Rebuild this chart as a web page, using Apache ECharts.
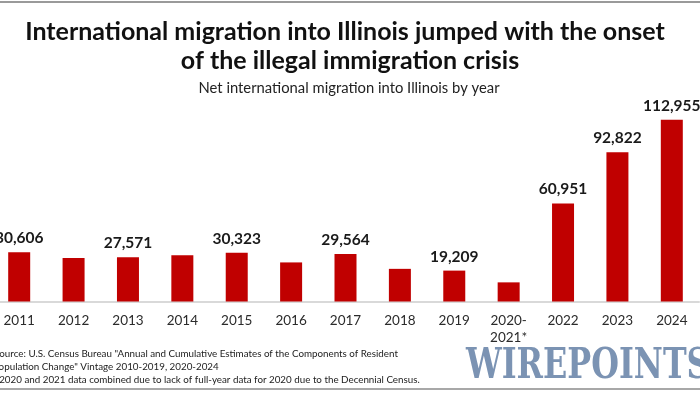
<!DOCTYPE html>
<html>
<head>
<meta charset="utf-8">
<script src="https://cdn.jsdelivr.net/npm/echarts@6/dist/echarts.min.js"></script>
<style>
html,body{margin:0;padding:0;background:#fff;}
#chart{width:700px;height:394px;}
</style>
</head>
<body>
<div id="chart"></div>
<script>
const categories = ['2011','2012','2013','2014','2015','2016','2017','2018','2019','2020-\n2021*','2022','2023','2024'];
const values = [30606, 27000, 27571, 28800, 30323, 24300, 29564, 20300, 19209, 11900, 60951, 92822, 112955];
const labeledYears = ['2011','2013','2015','2017','2019','2022','2023','2024'];

const titleLines = ['International migration into Illinois jumped with the onset', 'of the illegal immigration crisis'];
const subtitle = 'Net international migration into Illinois by year';
const footLines = [
  'Source: U.S. Census Bureau "Annual and Cumulative Estimates of the Components of Resident',
  'Population Change" Vintage 2010-2019, 2020-2024',
  '*2020 and 2021 data combined due to lack of full-year data for 2020 due to the Decennial Census.'
];

const chart = echarts.init(document.getElementById('chart'), null, {renderer:'canvas'});
chart.setOption({
  animation:false,
  backgroundColor:'#ffffff',
  grid:{left:-8, right:1, top:108.5, bottom:92.5, containLabel:false, outerBoundsMode:'none'},
  xAxis:{
    type:'category',
    data:categories,
    axisLine:{show:true, lineStyle:{color:'#d9d9d9', width:2}},
    axisTick:{show:false},
    axisLabel:{color:'#2b2b2b', fontFamily:'Lato', fontSize:13.5, margin:11, lineHeight:17, interval:0}
  },
  yAxis:{type:'value', min:0, max:120000, show:false, splitLine:{show:false}},
  series:[{
    type:'bar',
    data:values,
    barWidth:22,
    itemStyle:{color:'#c00000'},
    label:{
      show:true, position:'top', distance:6,
      fontFamily:'Lato', fontWeight:'bold', fontSize:15.5, color:'#1a1a1a',
      formatter:p => labeledYears.includes(p.name) ? p.value.toLocaleString('en-US') : ''
    }
  }],
  graphic:[
    {type:'rect', shape:{x:0,y:1,width:700,height:2}, style:{fill:'#9a9a9a'}},
    {type:'rect', shape:{x:0,y:388,width:700,height:2}, style:{fill:'#a8a8a8'}},
    {type:'text', x:345, y:31.5, style:{text:titleLines[0], fill:'#111', font:'bold 25px Lato', textAlign:'center', textVerticalAlign:'middle'}},
    {type:'text', x:350, y:60.5, style:{text:titleLines[1], fill:'#111', font:'bold 25px Lato', textAlign:'center', textVerticalAlign:'middle'}},
    {type:'text', x:349, y:88, style:{text:subtitle, fill:'#222', font:'14.8px Lato', textAlign:'center', textVerticalAlign:'middle'}},
    {type:'text', x:-6, y:354, style:{text:footLines[0], fill:'#222', font:'9.8px Lato', textAlign:'left', textVerticalAlign:'middle'}},
    {type:'text', x:-7, y:367, style:{text:footLines[1], fill:'#222', font:'9.8px Lato', textAlign:'left', textVerticalAlign:'middle'}},
    {type:'text', x:-5, y:380, style:{text:footLines[2], fill:'#222', font:'9.8px Lato', textAlign:'left', textVerticalAlign:'middle'}},
    {type:'text', x:466, y:367, scaleX:0.74, style:{text:'WIREPOINTS', fill:'#7b93b3', font:'bold 43px "DejaVu Serif"', textAlign:'left', textVerticalAlign:'middle'}}
  ]
});
</script>
</body>
</html>
